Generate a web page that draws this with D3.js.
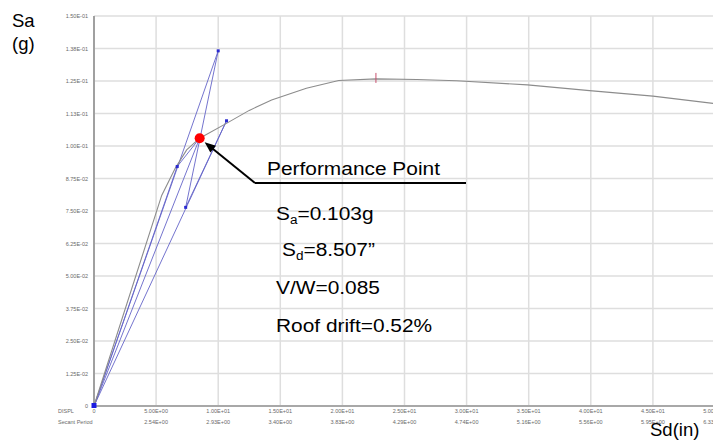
<!DOCTYPE html>
<html>
<head>
<meta charset="utf-8">
<script src="https://cdn.jsdelivr.net/npm/d3@7"></script>
<style>
  body { margin: 0; background: #fff; }
  svg { display: block; font-family: "Liberation Sans", Arial, sans-serif; }
  .tick-label { font-size: 5.5px; fill: #6a6a6a; }
  .big { font-size: 18.5px; fill: #000; }
</style>
</head>
<body>
<div id="chart"></div>
<script>
// tick labels
const xTicks = [0, 5, 10, 15, 20, 25, 30, 35, 40, 45, 50]
const xTickLabels = ["0", "5.00E+00", "1.00E+01", "1.50E+01", "2.00E+01", "2.50E+01", "3.00E+01", "3.50E+01", "4.00E+01", "4.50E+01", "5.00E+01"]
const secantPeriod = ["", "2.54E+00", "2.93E+00", "3.40E+00", "3.83E+00", "4.29E+00", "4.74E+00", "5.16E+00", "5.56E+00", "5.95E+00", "6.33E+00"]
const yTicks = [0, 0.0125, 0.025, 0.0375, 0.05, 0.0625, 0.075, 0.0875, 0.1, 0.1125, 0.125, 0.1375, 0.15]
const yTickLabels = ["0", "1.25E-02", "2.50E-02", "3.75E-02", "5.00E-02", "6.25E-02", "7.50E-02", "8.75E-02", "1.00E-01", "1.13E-01", "1.25E-01", "1.38E-01", "1.50E-01"]

// capacity curve (gray)
const capSd = [0, 5.45, 6.55, 7.46, 8.507, 10.7, 12.5, 14.3, 17.1, 19.7, 22.7, 26.0, 29.2, 34.9, 39.9, 45.0, 50.0]
const capSa = [0, 0.081, 0.0915, 0.0985, 0.103, 0.1088, 0.1137, 0.1177, 0.1222, 0.1252, 0.1258, 0.1256, 0.1251, 0.1235, 0.1213, 0.1192, 0.1163]

// demand lines (blue)
const demandASd = [0, 10.0, 7.38, 10.67, 0]
const demandASa = [0, 0.1366, 0.0764, 0.1097, 0]
const demandBSd = [0, 6.70, 8.507, 0]
const demandBSa = [0, 0.0921, 0.103, 0]

// blue markers
const dotSd = [10.0, 10.67, 6.70, 7.38]
const dotSa = [0.1366, 0.1097, 0.0921, 0.0764]

// performance point + peak marker
const ppSd = 8.507
const ppSa = 0.103
const peakSd = 22.7
const peakSa = 0.1258

const W = 713, H = 441

const svg = d3.select("#chart").append("svg")
    .attr("width", W)
    .attr("height", H)

const x = d3.scaleLinear().domain([0, 50]).range([94, 715])
const y = d3.scaleLinear().domain([0, 0.15]).range([406, 16])

// grid
const grid = svg.append("g")
grid.selectAll(".vgrid").data(xTicks.slice(1)).enter().append("line")
    .attr("x1", d => x(d)).attr("x2", d => x(d))
    .attr("y1", y(0.15)).attr("y2", y(0))
    .attr("stroke", "#dedede").attr("stroke-width", 1.5)
grid.selectAll(".hgrid").data(yTicks.slice(1)).enter().append("line")
    .attr("x1", x(0)).attr("x2", W)
    .attr("y1", d => y(d)).attr("y2", d => y(d))
    .attr("stroke", "#dedede").attr("stroke-width", 1.5)

// axes lines
svg.append("line")
    .attr("x1", x(0)).attr("x2", x(0))
    .attr("y1", y(0.15)).attr("y2", y(0) + 1)
    .attr("stroke", "#a0a0a0").attr("stroke-width", 2)
svg.append("line")
    .attr("x1", x(0)).attr("x2", W)
    .attr("y1", y(0)).attr("y2", y(0))
    .attr("stroke", "#a8a8a8").attr("stroke-width", 2)

// tick labels
svg.selectAll(".ylab").data(yTicks).enter().append("text")
    .attr("class", "tick-label")
    .attr("x", 88)
    .attr("y", d => y(d) + 2)
    .attr("text-anchor", "end")
    .text((d, i) => yTickLabels[i])

svg.selectAll(".xlab").data(xTicks).enter().append("text")
    .attr("class", "tick-label")
    .attr("x", d => x(d))
    .attr("y", 413)
    .attr("text-anchor", "middle")
    .text((d, i) => xTickLabels[i])

svg.selectAll(".plab").data(xTicks).enter().append("text")
    .attr("class", "tick-label")
    .attr("x", d => x(d))
    .attr("y", 424)
    .attr("text-anchor", "middle")
    .text((d, i) => secantPeriod[i])

svg.append("text").attr("class", "tick-label").attr("x", 58).attr("y", 413).text("DISPL")
svg.append("text").attr("class", "tick-label").attr("x", 58).attr("y", 424).text("Secant Period")

// lines
const line = d3.line().x(d => x(d[0])).y(d => y(d[1]))

const demands = [
    d3.zip(demandASd, demandASa),
    d3.zip(demandBSd, demandBSa)
]
svg.selectAll(".demand").data(demands).enter().append("path")
    .attr("d", line)
    .attr("fill", "none")
    .attr("stroke", "#6464c8")
    .attr("stroke-width", 0.9)
    .attr("stroke-linejoin", "round")

svg.append("path")
    .datum(d3.zip(capSd, capSa))
    .attr("d", line)
    .attr("fill", "none")
    .attr("stroke", "#8c8c8c")
    .attr("stroke-width", 1.1)

svg.selectAll(".dot").data(d3.zip(dotSd, dotSa)).enter().append("rect")
    .attr("x", d => x(d[0]) - 1.5)
    .attr("y", d => y(d[1]) - 1.5)
    .attr("width", 3).attr("height", 3)
    .attr("fill", "#2a2ad0")

// origin marker
svg.append("rect")
    .attr("x", x(0) - 2.5).attr("y", y(0) - 3)
    .attr("width", 5).attr("height", 5)
    .attr("fill", "#1a1ae0")

// peak tick
svg.append("line")
    .attr("x1", x(peakSd)).attr("x2", x(peakSd))
    .attr("y1", y(peakSa) - 6).attr("y2", y(peakSa) + 4)
    .attr("stroke", "#c8506e").attr("stroke-width", 1)

// performance point
svg.append("circle")
    .attr("cx", x(ppSd)).attr("cy", y(ppSa))
    .attr("r", 5)
    .attr("fill", "#ff0000")

// arrow + underline
const ax = x(ppSd) + 5, ay = y(ppSa) + 4
const bx = 255, by = 183
const ang = Math.atan2(ay - by, ax - bx)
svg.append("line")
    .attr("x1", bx).attr("y1", by)
    .attr("x2", ax - 8 * Math.cos(ang)).attr("y2", ay - 8 * Math.sin(ang))
    .attr("stroke", "#000").attr("stroke-width", 2)
const head = [
    [ax, ay],
    [ax - 11 * Math.cos(ang) + 4.5 * Math.sin(ang), ay - 11 * Math.sin(ang) - 4.5 * Math.cos(ang)],
    [ax - 11 * Math.cos(ang) - 4.5 * Math.sin(ang), ay - 11 * Math.sin(ang) + 4.5 * Math.cos(ang)]
]
svg.append("path").attr("d", "M" + head.join("L") + "Z").attr("fill", "#000")
svg.append("line")
    .attr("x1", bx).attr("x2", 466)
    .attr("y1", by).attr("y2", by)
    .attr("stroke", "#000").attr("stroke-width", 2)

// annotation texts
function stretched(tx, ty) {
    return svg.append("g").attr("transform", `translate(${tx},${ty}) scale(1.13,1)`)
        .append("text").attr("class", "big")
}
stretched(267, 175).text("Performance Point")

const t1 = stretched(276, 220)
t1.append("tspan").text("S")
t1.append("tspan").attr("font-size", "12px").attr("dy", 4).text("a")
t1.append("tspan").attr("dy", -4).text("=0.103g")

const t2 = stretched(282, 256)
t2.append("tspan").text("S")
t2.append("tspan").attr("font-size", "12px").attr("dy", 4).text("d")
t2.append("tspan").attr("dy", -4).text("=8.507\u201d")

stretched(276, 294).text("V/W=0.085")
stretched(276, 332).text("Roof drift=0.52%")

// axis titles
svg.append("text").attr("class", "big").attr("font-size", "19.5px").attr("x", 12).attr("y", 27).text("Sa")
svg.append("text").attr("class", "big").attr("font-size", "19.5px").attr("x", 12).attr("y", 50).text("(g)")
svg.append("text").attr("class", "big").attr("font-size", "20px").attr("x", 650).attr("y", 436).text("Sd(in)")
</script>
</body>
</html>
